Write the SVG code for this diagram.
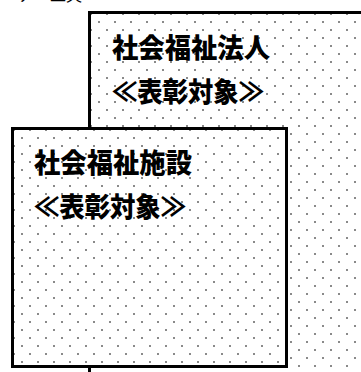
<svg xmlns="http://www.w3.org/2000/svg" width="361" height="372" viewBox="0 0 361 372">
<style>
.box{stroke:#000;stroke-width:3}
.t{font-family:"Noto Sans CJK JP","Noto Sans CJK SC",sans-serif;font-weight:900;font-size:27px;fill:#000}
.top{font-family:"Noto Sans CJK JP",sans-serif;font-size:16px;fill:#000}
</style>
<defs>
<pattern id="dotsA" patternUnits="userSpaceOnUse" x="2" y="5" width="16" height="16">
<rect x="0" y="0" width="2" height="2" fill="#8a8a8a"/>
<rect x="8" y="8" width="2" height="2" fill="#8a8a8a"/>
</pattern>
<pattern id="dotsB" patternUnits="userSpaceOnUse" x="5" y="9" width="16" height="16">
<rect x="0" y="0" width="2" height="2" fill="#8a8a8a"/>
<rect x="8" y="8" width="2" height="2" fill="#8a8a8a"/>
</pattern>
</defs>
<rect width="361" height="372" fill="#fff"/>
<text class="top" x="18" y="1">ア　工夫</text>
<g id="node-hojin">
<rect x="89.5" y="12.5" width="290" height="380" fill="#fff"/>
<rect class="box" x="89.5" y="12.5" width="290" height="380" fill="url(#dotsA)"/>
<text class="t" x="112" y="58" textLength="158" lengthAdjust="spacingAndGlyphs">社会福祉法人</text>
<text class="t" x="112" y="102" textLength="152" lengthAdjust="spacingAndGlyphs">≪表彰対象≫</text>
</g>
<g id="node-shisetsu">
<rect x="12.5" y="128.5" width="274" height="238" fill="#fff"/>
<rect class="box" x="12.5" y="128.5" width="274" height="238" fill="url(#dotsB)"/>
<text class="t" x="34" y="173" textLength="158" lengthAdjust="spacingAndGlyphs">社会福祉施設</text>
<text class="t" x="34" y="217" textLength="152" lengthAdjust="spacingAndGlyphs">≪表彰対象≫</text>
</g>
<g id="connectors"/>
</svg>
